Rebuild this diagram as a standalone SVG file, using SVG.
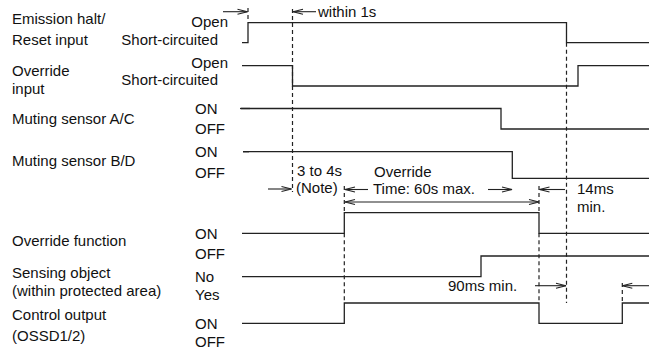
<svg xmlns="http://www.w3.org/2000/svg" width="649" height="351" viewBox="0 0 649 351">
<style>
text{font-family:"Liberation Sans",Arial,sans-serif;font-size:15px;fill:#111}
.r{text-anchor:end}
.sig{fill:none;stroke:#222;stroke-width:1.3}
.dash{fill:none;stroke:#222;stroke-width:1.2;stroke-dasharray:4 3}
.arr{fill:none;stroke:#222;stroke-width:1.1}
</style>
<defs>
<marker id="ah" markerUnits="userSpaceOnUse" markerWidth="14" markerHeight="8" refX="11" refY="4" orient="auto-start-reverse" viewBox="0 0 14 8">
<path d="M1,1.5 L11,4 L1,6.5" fill="none" stroke="#222" stroke-width="1.1"/>
</marker>
</defs>
<rect width="649" height="351" fill="#fff"/>

<g id="labels">
<text x="12" y="24">Emission halt/</text>
<text x="12" y="45">Reset input</text>
<text x="12" y="76">Override</text>
<text x="12" y="94">input</text>
<text x="12" y="123.5">Muting sensor A/C</text>
<text x="12" y="166">Muting sensor B/D</text>
<text x="12" y="246">Override function</text>
<text x="12" y="278">Sensing object</text>
<text x="12" y="296">(within protected area)</text>
<text x="12" y="320">Control output</text>
<text x="12" y="341">(OSSD1/2)</text>
</g>

<g id="levels">
<text class="r" x="228" y="27">Open</text>
<text class="r" x="218" y="45">Short-circuited</text>
<text class="r" x="228" y="68">Open</text>
<text class="r" x="218" y="85">Short-circuited</text>
<text x="195" y="114">ON</text>
<text x="195" y="134">OFF</text>
<text x="195" y="157">ON</text>
<text x="195" y="177.5">OFF</text>
<text x="195" y="238.5">ON</text>
<text x="195" y="259">OFF</text>
<text x="195" y="281.5">No</text>
<text x="195" y="300">Yes</text>
<text x="195" y="328.5">ON</text>
<text x="195" y="347">OFF</text>
</g>

<g id="sig-emission"><path class="sig" d="M242,42.7 H248 V22.7 H566.5 V42.7 H649"/></g>
<g id="sig-override-input"><path class="sig" d="M242,65.7 H292.5 V86 H578 V65.7 H649"/></g>
<g id="sig-muting-ac"><path class="sig" d="M241,108.5 H501 V129 H649"/><path class="sig" d="M240,108.5 H250" stroke-width="2.2"/></g>
<g id="sig-muting-bd"><path class="sig" d="M243,151.7 H512.3 V178.3 H649"/><path class="sig" d="M243,151.7 H249" stroke-width="2.2"/></g>
<g id="sig-override-function"><path class="sig" d="M242,233.3 H344.3 V212.7 H539 V233.3 H649"/></g>
<g id="sig-sensing"><path class="sig" d="M242,276.7 H481 V256 H649"/></g>
<g id="sig-control"><path class="sig" d="M242,323.3 H344.3 V303 H539 V323.3 H622.3 V303 H649"/></g>

<g id="connectors">
<path class="dash" d="M248,8 V21"/>
<path class="dash" d="M292.5,9 V192"/>
<path class="dash" d="M344.3,186 V212.7 M344.3,233.3 V303"/>
<path class="dash" d="M539,186 V212.7 M539,233.3 V303"/>
<path class="dash" d="M566.5,42.7 V303"/>
<path class="dash" d="M622.3,283 V303"/>

<path class="arr" d="M223,11.7 H247.5" marker-end="url(#ah)"/>
<path class="arr" d="M316,11.7 H293" marker-end="url(#ah)"/>
<path class="arr" d="M268,189 H291.5" marker-end="url(#ah)"/>
<path class="arr" d="M368,189.5 H345" marker-end="url(#ah)"/>
<path class="arr" d="M488,189.5 H512" marker-end="url(#ah)"/>
<path class="arr" d="M565,189.5 H539.5" marker-end="url(#ah)"/>
<path class="arr" d="M345,202 H539" marker-start="url(#ah)" marker-end="url(#ah)"/>
<path class="arr" d="M535,285.7 H566" marker-end="url(#ah)"/>
<path class="arr" d="M649,285.7 H622.3" marker-end="url(#ah)"/>
</g>

<g id="annotations">
<text x="318" y="16.5">within 1s</text>
<text x="297" y="175.5">3 to 4s</text>
<text x="296" y="193">(Note)</text>
<text x="374" y="176.5">Override</text>
<text x="373" y="193.5">Time: 60s max.</text>
<text x="577" y="193.5">14ms</text>
<text x="577" y="212">min.</text>
<text x="448" y="291">90ms min.</text>
</g>
</svg>
